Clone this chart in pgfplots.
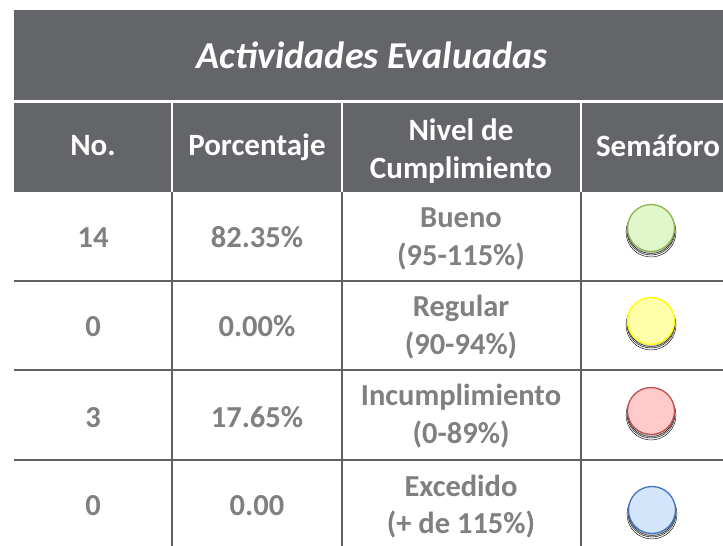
\documentclass[border=0pt]{standalone}
\usepackage{pgfplots}
\pgfplotsset{compat=1.18}
\usepackage{pgfplotstable}
\usepackage{fontspec}
\setmainfont{Carlito}
\definecolor{hdr}{HTML}{646569}
\definecolor{txtgray}{HTML}{808080}
\definecolor{linegray}{HTML}{606165}
\definecolor{grnfill}{HTML}{E0F7CC}
\definecolor{grnline}{HTML}{8EB24E}
\definecolor{yelfill}{HTML}{FFFFA8}
\definecolor{yelline}{HTML}{FFFF00}
\definecolor{redfill}{HTML}{FFCACA}
\definecolor{redline}{HTML}{C0504D}
\definecolor{blufill}{HTML}{D2E5FA}
\definecolor{bluline}{HTML}{4472C4}

\pgfplotstableread[col sep=comma]{
x,y,label
93,247,14
257,247,82.35\%
461,227,Bueno
461,265,(95-115\%)
93,336,0
257,336,0.00\%
461,316,Regular
461,354,(90-94\%)
93,427,3
257,427,17.65\%
461,405,Incumplimiento
461,443,(0-89\%)
93,515,0
257,515,0.00
461,496,Excedido
461,533,(+ de 115\%)
}\bodytab

\pgfplotstableread[col sep=comma]{
x,y,label
93,155,No.
257,155,Porcentaje
461,140,Nivel de
461,178,Cumplimiento
658,156,Semáforo
}\headtab

\begin{document}
\begin{tikzpicture}
\begin{axis}[
  scale only axis, width=723pt, height=546pt,
  xmin=0, xmax=723, ymin=0, ymax=546, y dir=reverse,
  hide axis, clip=false,
]
% background
\fill[white] (axis cs:0,0) rectangle (axis cs:723,546);
% title band
\fill[hdr] (axis cs:14,10) rectangle (axis cs:723,100);
\node[anchor=base, text=white, inner sep=0pt,
  font=\fontsize{38}{42}\selectfont\bfseries\itshape] at (axis cs:372,68) {Actividades Evaluadas};
% header band
\fill[hdr] (axis cs:14,103) rectangle (axis cs:723,192);
\draw[white, line width=1.5pt] (axis cs:172,103) -- (axis cs:172,192)
  (axis cs:342,103) -- (axis cs:342,192)
  (axis cs:581,103) -- (axis cs:581,192);
% body grid
\draw[linegray, line width=2pt] (axis cs:172,192) -- (axis cs:172,546)
  (axis cs:342,192) -- (axis cs:342,546)
  (axis cs:581,192) -- (axis cs:581,546);
\draw[linegray, line width=2pt] (axis cs:14,281) -- (axis cs:723,281)
  (axis cs:14,370) -- (axis cs:723,370)
  (axis cs:14,460) -- (axis cs:723,460);

\addplot[draw=none, mark=none, nodes near coords, point meta=explicit symbolic,
  nodes near coords style={anchor=base, text=white, inner sep=0pt,
    font=\fontsize{31}{36}\selectfont\bfseries}]
  table[x=x, y=y, meta=label] {\headtab};

\addplot[draw=none, mark=none, nodes near coords, point meta=explicit symbolic,
  nodes near coords style={anchor=base, text=txtgray, inner sep=0pt,
    font=\fontsize{30.5}{36}\selectfont\bfseries}]
  table[x=x, y=y, meta=label] {\bodytab};

% semaforo soft shadows
\addplot[only marks, mark=*, mark size=25pt,
  mark options={fill=black, draw=none, fill opacity=0.05, yshift=-4pt}]
  coordinates {(651,228) (651,321) (651,411) (652,510)};
\addplot[only marks, mark=*, mark size=24pt,
  mark options={fill=black, draw=none, fill opacity=0.08, yshift=-3pt}]
  coordinates {(651,228) (651,321) (651,411) (652,510)};
\addplot[only marks, mark=*, mark size=23.5pt,
  mark options={fill=black, draw=none, fill opacity=0.10, yshift=-2pt}]
  coordinates {(651,228) (651,321) (651,411) (652,510)};
\addplot[only marks, mark=*, mark size=23.5pt,
  mark options={fill=grnfill, draw=grnline, line width=1.3pt}]
  coordinates {(651,228)};
\addplot[only marks, mark=*, mark size=23.5pt,
  mark options={fill=yelfill, draw=yelline, line width=1.3pt}]
  coordinates {(651,321)};
\addplot[only marks, mark=*, mark size=23.5pt,
  mark options={fill=redfill, draw=redline, line width=1.3pt}]
  coordinates {(651,411)};
\addplot[only marks, mark=*, mark size=23.5pt,
  mark options={fill=blufill, draw=bluline, line width=1.3pt}]
  coordinates {(652,510)};
\end{axis}
\pgfresetboundingbox
\useasboundingbox (0,0) rectangle (723pt,546pt);
\end{tikzpicture}
\end{document}
